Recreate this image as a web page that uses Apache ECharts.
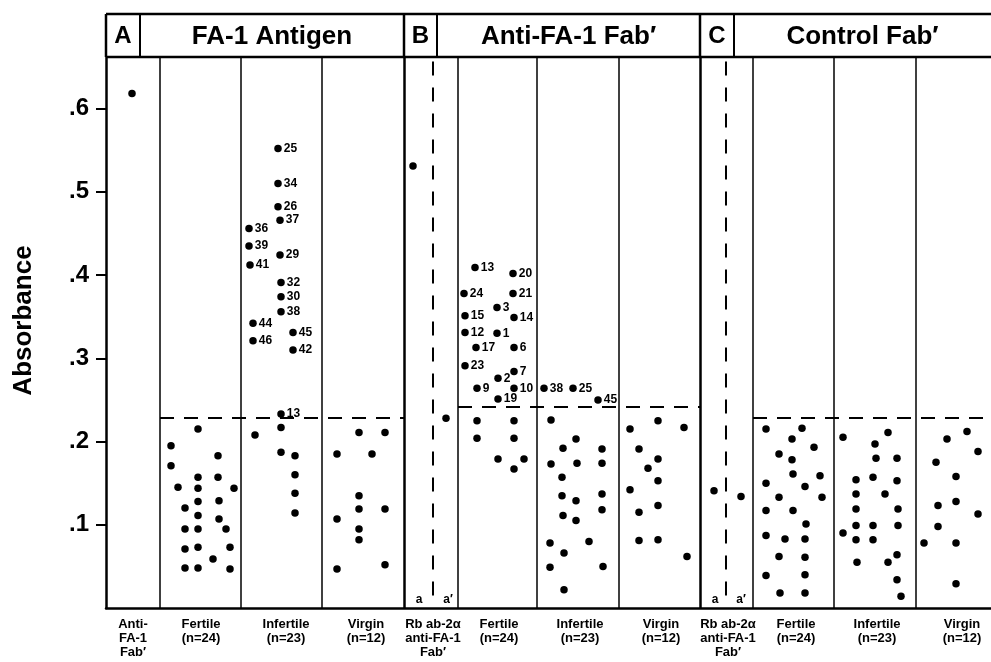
<!DOCTYPE html>
<html>
<head>
<meta charset="utf-8">
<script src="https://cdn.jsdelivr.net/npm/echarts@6/dist/echarts.min.js"></script>
<style>
    html, body { margin: 0; padding: 0; background: #fff; }
    #main { width: 991px; height: 662px; }
</style>
</head>
<body>
<div id="main"></div>
<script>
// x = position across the figure (strip jitter units), y = absorbance, optional sample number
const controlA = [[26, 0.618]]
const fertileA = [[92,0.215],[65,0.195],[112,0.183],[65,0.171],[92,0.157],[112,0.157],[72,0.145],[92,0.144],[128,0.144],
    [92,0.128],[113,0.129],[79,0.120],[92,0.111],[113,0.107],[79,0.095],[92,0.095],[120,0.095],[79,0.071],[92,0.073],
    [124,0.073],[107,0.059],[79,0.048],[92,0.048],[124,0.047]]
const infertileA = [[172,0.552,'25'],[172,0.510,'34'],[172,0.482,'26'],[174,0.466,'37'],[143,0.456,'36'],[143,0.435,'39'],
    [174,0.424,'29'],[144,0.412,'41'],[175,0.391,'32'],[175,0.374,'30'],[175,0.356,'38'],[147,0.342,'44'],[187,0.331,'45'],
    [147,0.321,'46'],[187,0.310,'42'],[175,0.233,'13'],[149,0.208],[175,0.217],[175,0.187],[189,0.183],[189,0.160],
    [189,0.138],[189,0.114]]
const virginA = [[253,0.211],[279,0.211],[231,0.185],[266,0.185],[253,0.135],[253,0.119],[279,0.119],[231,0.107],
    [253,0.095],[253,0.082],[279,0.052],[231,0.047]]

const controlB = [[307,0.531],[340,0.228]]
const fertileB = [[369,0.409,'13'],[407,0.402,'20'],[358,0.378,'24'],[407,0.378,'21'],[391,0.361,'3'],[359,0.351,'15'],
    [408,0.349,'14'],[359,0.331,'12'],[391,0.330,'1'],[370,0.313,'17'],[408,0.313,'6'],[359,0.291,'23'],[408,0.284,'7'],
    [392,0.276,'2'],[371,0.264,'9'],[408,0.264,'10'],[392,0.251,'19'],[371,0.225],[408,0.225],[371,0.204],[408,0.204],
    [392,0.179],[418,0.179],[408,0.167]]
const infertileB = [[438,0.264,'38'],[467,0.264,'25'],[492,0.250,'45'],[445,0.226],[470,0.203],[457,0.192],[496,0.191],
    [445,0.173],[471,0.174],[496,0.174],[456,0.157],[456,0.135],[496,0.137],[470,0.129],[496,0.118],[457,0.111],
    [470,0.105],[444,0.078],[483,0.080],[458,0.066],[444,0.049],[497,0.050],[458,0.022]]
const virginB = [[552,0.225],[578,0.217],[524,0.215],[533,0.191],[552,0.179],[542,0.168],[552,0.153],[524,0.142],
    [552,0.123],[533,0.115],[533,0.081],[552,0.082],[581,0.062]]

const controlC = [[608,0.141],[635,0.134]]
const fertileC = [[660,0.215],[696,0.216],[686,0.203],[708,0.193],[673,0.185],[686,0.178],[687,0.161],[714,0.159],
    [660,0.150],[699,0.146],[673,0.133],[716,0.133],[660,0.117],[687,0.117],[700,0.101],[660,0.087],[679,0.083],
    [699,0.083],[673,0.062],[699,0.061],[660,0.039],[699,0.040],[674,0.018],[699,0.018]]
const infertileC = [[737,0.205],[782,0.211],[769,0.197],[770,0.180],[791,0.180],[750,0.154],[767,0.157],[791,0.153],
    [750,0.137],[779,0.137],[750,0.119],[792,0.119],[750,0.099],[767,0.099],[792,0.099],[737,0.090],[750,0.082],
    [767,0.082],[791,0.064],[751,0.055],[782,0.055],[791,0.034],[795,0.014]]
const virginC = [[861,0.212],[841,0.203],[872,0.188],[830,0.175],[850,0.158],[832,0.123],[850,0.128],[872,0.113],
    [832,0.098],[818,0.078],[850,0.078],[850,0.029]]

// cut-off absorbance per panel: [from x, to x, value]
const thresholds = [[54, 298, 0.228], [352, 594, 0.2415], [647, 885, 0.229]]

const yTicks = [0.1, 0.2, 0.3, 0.4, 0.5, 0.6]
const panelLetters = ['A', 'B', 'C']
const panelTitles = ['FA-1 Antigen', 'Anti-FA-1 Fab\u2032', 'Control Fab\u2032']
const groupLabels = [
    'Anti-\nFA-1\nFab\u2032', 'Fertile\n(n=24)', 'Infertile\n(n=23)', 'Virgin\n(n=12)',
    'Rb ab-2\u03b1\nanti-FA-1\nFab\u2032', 'Fertile\n(n=24)', 'Infertile\n(n=23)', 'Virgin\n(n=12)',
    'Rb ab-2\u03b1\nanti-FA-1\nFab\u2032', 'Fertile\n(n=24)', 'Infertile\n(n=23)', 'Virgin\n(n=12)'
]

// layout along x (same units as the data)
const xMax = 885
const panelEdges = [0, 298, 594]
const letterEdges = [34, 331, 628]
const columnLines = [54, 135, 216, 352, 431, 513, 647, 728, 810]
const controlDashes = [327, 620]
const groupCenters = [27, 95, 180, 260, 327, 393, 474, 555, 622, 690, 771, 856]
const subLabels = [[313, 'a'], [342, 'a\u2032'], [609, 'a'], [635, 'a\u2032']]

const FONT = '"Liberation Sans", Arial, sans-serif'
const yMax = 0.662

const allPoints = [].concat(controlA, fertileA, infertileA, virginA, controlB, fertileB, infertileB, virginB,
    controlC, fertileC, infertileC, virginC)

let markLines = []
columnLines.forEach(x => markLines.push({xAxis: x, lineStyle: {width: 1.5, type: 'solid'}}))
panelEdges.slice(1).forEach(x => markLines.push({xAxis: x, lineStyle: {width: 2.5, type: 'solid'}}))
controlDashes.forEach(x => markLines.push([
    {coord: [x, 0.015], lineStyle: {width: 2, type: [14, 12]}},
    {coord: [x, yMax]}
]))
thresholds.forEach(t => markLines.push([
    {coord: [t[0], t[2]], lineStyle: {width: 2, type: [14, 10]}},
    {coord: [t[1], t[2]]}
]))

const chart = echarts.init(document.getElementById('main'))

chart.setOption({
    animation: false,
    backgroundColor: '#fff',
    textStyle: {fontFamily: FONT},
    grid: {left: 106, right: 0, top: 57, bottom: 54},
    xAxis: {
        type: 'value', min: 0, max: xMax,
        axisLine: {show: true, onZero: false, lineStyle: {color: '#000', width: 2.5}},
        axisTick: {show: false},
        axisLabel: {show: false},
        splitLine: {show: false}
    },
    yAxis: {
        type: 'value', min: 0, max: yMax,
        name: 'Absorbance',
        nameLocation: 'middle',
        nameGap: 69,
        nameRotate: 90,
        nameTextStyle: {fontSize: 26, fontWeight: 'bold', color: '#000', fontFamily: FONT, padding: [0, 0, 0, 24]},
        axisLine: {show: true, lineStyle: {color: '#000', width: 2.5}},
        axisTick: {show: true, customValues: yTicks, length: 10, lineStyle: {color: '#000', width: 2}},
        axisLabel: {
            customValues: yTicks,
            margin: 17,
            fontSize: 24,
            fontWeight: 'bold',
            color: '#000',
            fontFamily: FONT,
            formatter: v => '.' + Math.round(v * 10)
        },
        splitLine: {show: false}
    },
    series: [
        {
            type: 'scatter',
            data: [],
            silent: true,
            markLine: {
                silent: true,
                symbol: 'none',
                label: {show: false},
                lineStyle: {color: '#000', opacity: 1},
                data: markLines
            }
        },
        {
            type: 'scatter',
            data: allPoints,
            symbol: 'circle',
            symbolSize: 7.5,
            itemStyle: {color: '#000', opacity: 1},
            label: {
                show: true,
                position: 'right',
                distance: 2,
                formatter: p => p.value[2] || '',
                fontSize: 12,
                fontWeight: 'bold',
                color: '#000',
                fontFamily: FONT
            }
        }
    ]
})

// header boxes and group names, placed through the axis scale
function px(x, y) {
    return chart.convertToPixel({gridIndex: 0}, [x, y])
}
const headTop = 14
const headBottom = px(0, yMax)[1]
const base = px(0, 0)[1]
const rightEdge = px(xMax, 0)[0]
let g = []
const ls = {stroke: '#000', lineWidth: 2.5}
g.push({type: 'line', shape: {x1: px(0,0)[0], y1: headTop, x2: rightEdge, y2: headTop}, style: ls})
g.push({type: 'line', shape: {x1: px(0,0)[0], y1: headBottom, x2: rightEdge, y2: headBottom}, style: ls})
panelEdges.forEach((e, i) => {
    const x0 = px(e, 0)[0]
    const x1 = px(letterEdges[i], 0)[0]
    const x2 = i < 2 ? px(panelEdges[i + 1], 0)[0] : rightEdge
    g.push({type: 'line', shape: {x1: x0, y1: headTop, x2: x0, y2: headBottom}, style: ls})
    g.push({type: 'line', shape: {x1: x1, y1: headTop, x2: x1, y2: headBottom}, style: {stroke: '#000', lineWidth: 2}})
    g.push({type: 'text', x: (x0 + x1) / 2, y: (headTop + headBottom) / 2 + 1,
        style: {text: panelLetters[i], font: 'bold 24px ' + FONT, fill: '#000', textAlign: 'center', textVerticalAlign: 'middle'}})
    g.push({type: 'text', x: (x1 + x2) / 2, y: (headTop + headBottom) / 2 + 1,
        style: {text: panelTitles[i], font: 'bold 26px ' + FONT, fill: '#000', textAlign: 'center', textVerticalAlign: 'middle'}})
})
groupLabels.forEach((t, i) => {
    g.push({type: 'text', x: px(groupCenters[i], 0)[0], y: base + 9,
        style: {text: t, font: 'bold 13px ' + FONT, lineHeight: 14, fill: '#000', textAlign: 'center', textVerticalAlign: 'top'}})
})
subLabels.forEach(s => {
    g.push({type: 'text', x: px(s[0], 0)[0], y: base - 8,
        style: {text: s[1], font: 'bold 12px ' + FONT, fill: '#000', textAlign: 'center', textVerticalAlign: 'middle'}})
})
chart.setOption({graphic: g})
</script>
</body>
</html>
